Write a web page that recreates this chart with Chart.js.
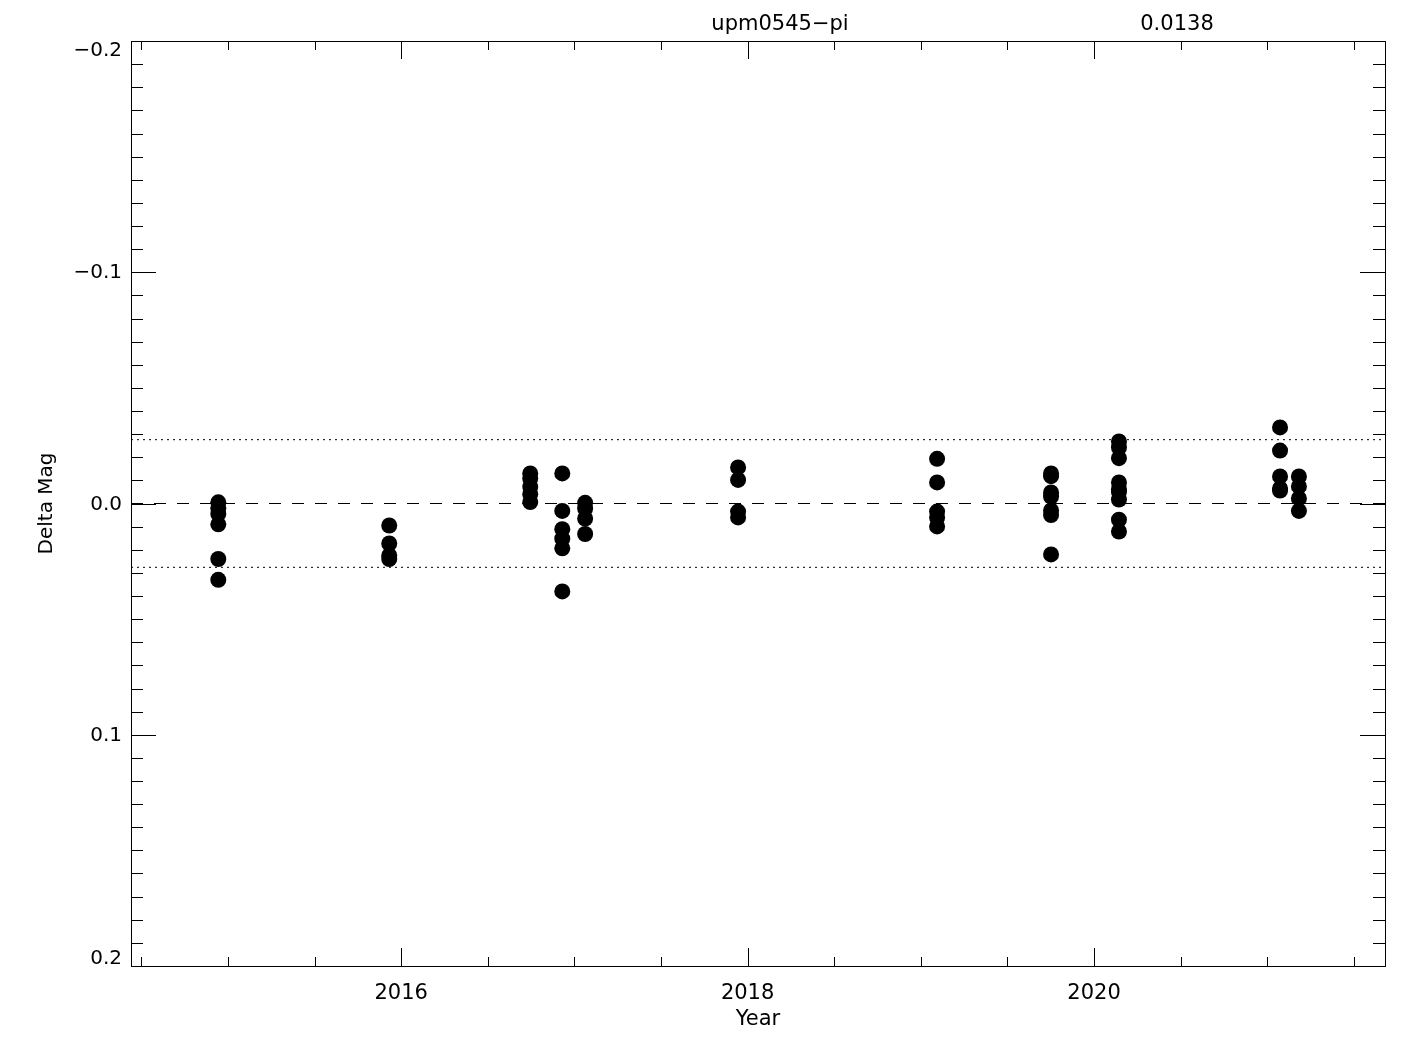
<!DOCTYPE html>
<html>
<head>
<meta charset="utf-8">
<script src="https://cdn.jsdelivr.net/npm/chart.js@4.4.1/dist/chart.umd.min.js"></script>
<style>
  body { margin: 0; background: #fff; }
  canvas { display: block; }
</style>
</head>
<body>
<canvas id="lightCurve" width="1425" height="1050"></canvas>
<script>
// observation epochs (decimal year) and delta mags per epoch
const epochYears = [2014.944, 2015.931, 2016.745, 2016.930, 2017.062, 2017.945, 2019.094, 2019.752, 2020.144, 2021.074, 2021.183];
const epochMags = [
    [-0.0005, 0.0020, 0.0045, 0.0090, 0.0240, 0.0330],
    [0.0095, 0.0173, 0.0225, 0.0240],
    [-0.0130, -0.0108, -0.0072, -0.0040, -0.0006],
    [-0.0130, 0.0032, 0.0111, 0.0152, 0.0194, 0.0380],
    [-0.0003, 0.0022, 0.0065, 0.0132],
    [-0.0156, -0.0102, 0.0035, 0.0060],
    [-0.0193, -0.0091, 0.0035, 0.0060, 0.0099],
    [-0.0130, -0.0118, -0.0048, -0.0030, 0.0030, 0.0050, 0.0220],
    [-0.0268, -0.0242, -0.0196, -0.0091, -0.0062, -0.0050, -0.0017, 0.0070, 0.0121],
    [-0.0329, -0.0229, -0.0117, -0.0065, -0.0056],
    [-0.0117, -0.0074, -0.0022, 0.0032]
];
const sigma = 0.0138;
const starName = "upm0545\u2212pi";

const xRange = [2014.44, 2021.68];
const yRange = [-0.2, 0.2];
const xTickValues = [2016, 2018, 2020];
const yTickValues = [-0.2, -0.1, 0.0, 0.1, 0.2];
const xMinorStep = 0.5;
const yMinorStep = 0.01;

const FONT = "'DejaVu Sans', 'Liberation Sans', sans-serif";

const points = [];
epochYears.forEach((yr, i) => {
    epochMags[i].forEach(m => points.push({ x: yr, y: m }));
});

function hLine(v) {
    return [{ x: xRange[0], y: v }, { x: xRange[1], y: v }];
}

function fmtMag(v) {
    return (v < -1e-9 ? "\u2212" : "") + Math.abs(v).toFixed(1);
}

// IDL style frame: ticks pointing inward on all four sides
const frameTicks = {
    id: "frameTicks",
    afterDraw(chart) {
        const { ctx, chartArea: a, scales: { x, y } } = chart;
        ctx.save();
        ctx.strokeStyle = "#000";
        ctx.lineWidth = 1;
        ctx.strokeRect(a.left + 0.5, a.top + 0.5, a.right - a.left, a.bottom - a.top);

        ctx.beginPath();
        for (let v = Math.ceil(xRange[0] / xMinorStep) * xMinorStep; v <= xRange[1] + 1e-9; v += xMinorStep) {
            const px = Math.round(x.getPixelForValue(v)) + 0.5;
            const major = xTickValues.some(t => Math.abs(t - v) < 1e-6);
            const len = major ? 18 : 9;
            ctx.moveTo(px, a.bottom); ctx.lineTo(px, a.bottom - len);
            ctx.moveTo(px, a.top); ctx.lineTo(px, a.top + len);
        }
        const n = Math.round((yRange[1] - yRange[0]) / yMinorStep);
        for (let k = 0; k <= n; k++) {
            const v = yRange[0] + k * yMinorStep;
            const py = Math.round(y.getPixelForValue(v)) + 0.5;
            const major = k % 10 === 0;
            const len = major ? 25 : 12;
            ctx.moveTo(a.left, py); ctx.lineTo(a.left + len, py);
            ctx.moveTo(a.right, py); ctx.lineTo(a.right - len, py);
        }
        ctx.stroke();

        ctx.fillStyle = "#000";
        // y tick labels, end labels kept inside the frame like IDL does
        ctx.font = "20px " + FONT;
        ctx.textAlign = "right";
        ctx.textBaseline = "middle";
        yTickValues.forEach(v => {
            let py = y.getPixelForValue(v);
            py = Math.min(Math.max(py, a.top + 9), a.bottom - 8);
            ctx.fillText(fmtMag(v), a.left - 9, py + 1);
        });

        ctx.font = "21px " + FONT;
        ctx.textAlign = "center";
        ctx.fillText(starName, 780, 25);
        ctx.fillText(sigma.toFixed(4), 1177, 25);
        ctx.restore();
    }
};

const ctx = document.getElementById("lightCurve").getContext("2d");
new Chart(ctx, {
    type: "scatter",
    data: {
        datasets: [
            {
                data: points,
                backgroundColor: "#000",
                borderColor: "#000",
                pointRadius: 8,
                pointHoverRadius: 8,
                borderWidth: 0
            },
            {
                type: "line",
                data: hLine(0),
                borderColor: "#000",
                borderWidth: 1,
                borderDash: [12, 11],
                pointRadius: 0
            },
            {
                type: "line",
                data: hLine(-2 * sigma),
                borderColor: "#000",
                borderWidth: 1,
                borderDash: [2, 4],
                pointRadius: 0
            },
            {
                type: "line",
                data: hLine(2 * sigma),
                borderColor: "#000",
                borderWidth: 1,
                borderDash: [2, 4],
                pointRadius: 0
            }
        ]
    },
    options: {
        responsive: false,
        animation: false,
        layout: { padding: { top: 41, right: 40, left: 0, bottom: 0 } },
        plugins: {
            legend: { display: false },
            tooltip: { enabled: false }
        },
        scales: {
            x: {
                type: "linear",
                min: xRange[0],
                max: xRange[1],
                afterBuildTicks: s => { s.ticks = xTickValues.map(v => ({ value: v })); },
                afterFit: s => { s.height = 84; },
                grid: { display: false, drawTicks: false },
                border: { display: false },
                ticks: {
                    color: "#000",
                    padding: 15,
                    maxRotation: 0,
                    font: { family: FONT, size: 21 },
                    callback: v => String(v)
                },
                title: {
                    display: true,
                    text: "Year",
                    color: "#000",
                    font: { family: FONT, size: 21 },
                    padding: { top: 0, bottom: 18 }
                }
            },
            y: {
                type: "linear",
                min: yRange[0],
                max: yRange[1],
                reverse: true,
                afterBuildTicks: s => { s.ticks = yTickValues.map(v => ({ value: v })); },
                afterFit: s => { s.width = 131; },
                grid: { display: false, drawTicks: false },
                border: { display: false },
                ticks: { display: false },
                title: {
                    display: true,
                    text: "Delta Mag",
                    color: "#000",
                    font: { family: FONT, size: 20 },
                    padding: { top: 35, bottom: 0 }
                }
            }
        }
    },
    plugins: [frameTicks]
});
</script>
</body>
</html>
